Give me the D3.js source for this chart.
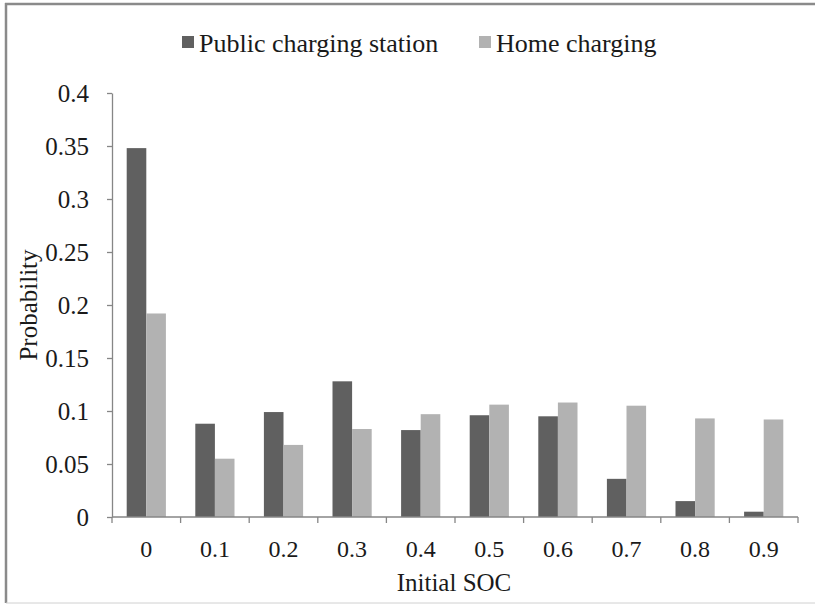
<!DOCTYPE html>
<html>
<head>
<meta charset="utf-8">
<script src="https://cdn.jsdelivr.net/npm/d3@7"></script>
<style>
  html, body { margin: 0; padding: 0; background: #fff; }
  svg { display: block; }
  svg text { font-family: "Liberation Serif", "Times New Roman", Times, "DejaVu Serif", serif; fill: #1a1a1a; }
</style>
</head>
<body>
<svg id="chart" width="815" height="606"></svg>
<script>
const categories = ["0", "0.1", "0.2", "0.3", "0.4", "0.5", "0.6", "0.7", "0.8", "0.9"];
const seriesNames = ["Public charging station", "Home charging"];
const publicValues = [0.348, 0.088, 0.099, 0.128, 0.082, 0.096, 0.095, 0.036, 0.015, 0.005];
const homeValues = [0.192, 0.055, 0.068, 0.083, 0.097, 0.106, 0.108, 0.105, 0.093, 0.092];
const yTicks = [0, 0.05, 0.1, 0.15, 0.2, 0.25, 0.3, 0.35, 0.4];
const yTickLabels = ["0", "0.05", "0.1", "0.15", "0.2", "0.25", "0.3", "0.35", "0.4"];
const colors = ["#606060", "#b2b2b2"];

const FONT = "'Liberation Serif', 'Times New Roman', Times, 'DejaVu Serif', serif";
const svg = d3.select("#chart");
const W = 815, H = 606;
const plot = { left: 112, right: 798, top: 93, bottom: 517 };
const axisColor = "#868686";

// outer frame
svg.append("line").attr("x1", 5).attr("x2", W).attr("y1", 4).attr("y2", 4)
  .attr("stroke", "#8a8a8a").attr("stroke-width", 2.5);
svg.append("line").attr("x1", 6).attr("x2", 6).attr("y1", 3).attr("y2", 603)
  .attr("stroke", "#8a8a8a").attr("stroke-width", 2.5);
svg.append("line").attr("x1", 6).attr("x2", W).attr("y1", 603).attr("y2", 603)
  .attr("stroke", "#d0d0d0").attr("stroke-width", 1);

const x0 = d3.scaleBand().domain(categories).range([plot.left, plot.right]).padding(0);
const barW = x0.bandwidth() / 3.5;
const x1 = d3.scaleBand().domain(seriesNames)
  .range([barW * 0.75, x0.bandwidth() - barW * 0.75]).padding(0);
const y = d3.scaleLinear().domain([0, 0.4]).range([plot.bottom, plot.top]);

const data = categories.map((c, i) => ({ cat: c, vals: [publicValues[i], homeValues[i]] }));

// bars
const groups = svg.append("g").selectAll("g").data(data).join("g")
  .attr("transform", d => `translate(${x0(d.cat)},0)`);
groups.selectAll("rect").data(d => d.vals.map((v, k) => ({ v, k })))
  .join("rect")
  .attr("x", d => x1(seriesNames[d.k]))
  .attr("width", x1.bandwidth())
  .attr("y", d => y(d.v))
  .attr("height", d => y(0) - y(d.v))
  .attr("fill", d => colors[d.k]);

// y axis
const yAxis = d3.axisLeft(y).tickValues(yTicks)
  .tickFormat((d, i) => yTickLabels[i]).tickSize(5).tickSizeOuter(0).tickPadding(18);
const gy = svg.append("g").attr("transform", `translate(${plot.left},0)`).call(yAxis);
gy.attr("font-family", FONT);
gy.select(".domain").attr("stroke", axisColor).attr("stroke-width", 1.3);
gy.selectAll(".tick line").attr("stroke", axisColor).attr("stroke-width", 1.3);
gy.selectAll(".tick text").attr("font-size", 25).attr("fill", "#1a1a1a");

// x axis: ticks at category boundaries
const xAxisLine = svg.append("g");
xAxisLine.append("line").attr("x1", plot.left).attr("x2", plot.right)
  .attr("y1", plot.bottom).attr("y2", plot.bottom)
  .attr("stroke", axisColor).attr("stroke-width", 1.3);
const boundaries = categories.map(c => x0(c)).concat([plot.right]);
xAxisLine.selectAll("line.tk").data(boundaries).join("line").attr("class", "tk")
  .attr("x1", d => d).attr("x2", d => d)
  .attr("y1", plot.bottom).attr("y2", plot.bottom + 6)
  .attr("stroke", axisColor).attr("stroke-width", 1.3);
svg.append("g").selectAll("text").data(categories).join("text")
  .attr("x", d => x0(d) + x0.bandwidth() / 2)
  .attr("y", 557)
  .attr("text-anchor", "middle")
  .attr("font-size", 24)
  .text(d => d);

// axis titles
svg.append("text").attr("x", 454).attr("y", 591).attr("text-anchor", "middle")
  .attr("font-size", 25).text("Initial SOC");
svg.append("text").attr("transform", `translate(37,305) rotate(-90)`)
  .attr("text-anchor", "middle").attr("font-size", 25).text("Probability");

// legend
const legendItems = [
  { name: seriesNames[0], color: colors[0], sx: 182, tx: 199 },
  { name: seriesNames[1], color: colors[1], sx: 479, tx: 496 }
];
const lg = svg.append("g");
lg.selectAll("rect").data(legendItems).join("rect")
  .attr("x", d => d.sx).attr("y", 36).attr("width", 12).attr("height", 12)
  .attr("fill", d => d.color);
lg.selectAll("text").data(legendItems).join("text")
  .attr("x", d => d.tx).attr("y", 52).attr("font-size", 26)
  .text(d => d.name);
</script>
</body>
</html>
